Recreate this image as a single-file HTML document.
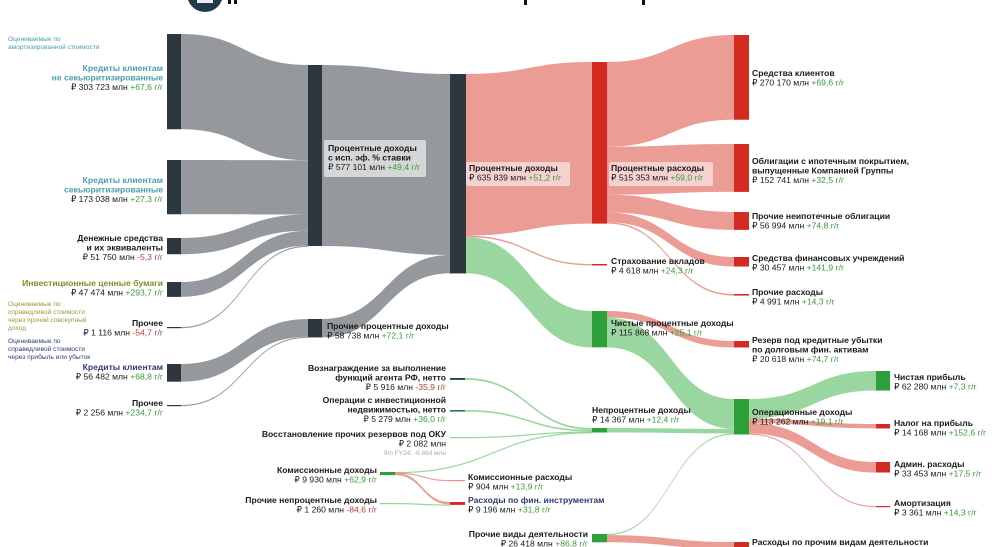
<!DOCTYPE html>
<html><head><meta charset="utf-8">
<style>
html,body{margin:0;padding:0;background:#fff;}
svg{display:block;font-family:"Liberation Sans","DejaVu Sans",sans-serif;}
.n{font-weight:bold;font-size:8.6px;fill:#1a1a1a;}
.v{font-size:8.6px;fill:#1a1a1a;}
.up{fill:#3a9a3a;}
.dn{fill:#b0403a;}
.note{font-size:6.6px;}
</style></head>
<body>
<svg id="chart" width="1000" height="547" viewBox="0 0 1000 547" xmlns="http://www.w3.org/2000/svg">
<g>
<circle cx="205" cy="-6" r="18" fill="#1f3a48"/>
<rect x="197" y="0" width="16" height="3" fill="#e8eef0"/>
<rect x="228" y="0" width="3" height="4" fill="#111"/>
<rect x="234" y="0" width="3" height="4" fill="#111"/>
<rect x="524" y="0" width="3" height="5" fill="#111"/>
<rect x="642" y="0" width="3" height="5" fill="#111"/>
</g>
<g id="links"></g>
<g id="nodes"></g>
<g id="labels">
<text x="8" y="41" class="note" fill="#4a9fb0"><tspan x="8">Оцениваемые по</tspan><tspan x="8" dy="8">амортизированной стоимости</tspan></text>
<text x="8" y="306" class="note" fill="#9a9a3a"><tspan x="8">Оцениваемые по</tspan><tspan x="8" dy="8">справедливой стоимости</tspan><tspan x="8" dy="8">через прочий совокупный</tspan><tspan x="8" dy="8">доход</tspan></text>
<text x="8" y="343" class="note" fill="#2f3a7a"><tspan x="8">Оцениваемые по</tspan><tspan x="8" dy="8">справедливой стоимости</tspan><tspan x="8" dy="8">через прибыль или убыток</tspan></text>
</g>
</svg>
<script>
// ---- data ----
const nodeNames = ["Кредиты клиентам не секьюритизированные","Кредиты клиентам секьюритизированные","Денежные средства и их эквиваленты","Инвестиционные ценные бумаги","Прочее (ПСД)","Кредиты клиентам (ССПУ)","Прочее (ССПУ)",
"Процентные доходы с исп. эф. % ставки","Прочие процентные доходы","Процентные доходы","Процентные расходы","Страхование вкладов","Чистые процентные доходы","Непроцентные доходы",
"Средства клиентов","Облигации с ипотечным покрытием","Прочие неипотечные облигации","Средства финансовых учреждений","Прочие расходы","Резерв под кредитные убытки","Операционные доходы",
"Чистая прибыль","Налог на прибыль","Админ. расходы","Амортизация",
"Вознаграждение агента РФ","Операции с инвест. недвижимостью","Восстановление резервов","Комиссионные доходы","Прочие непроцентные доходы","Комиссионные расходы","Расходы по фин. инструментам","Прочие виды деятельности","Расходы по прочим видам деятельности"];
const linkSource = [0,1,2,3,4,5,6, 7,8, 9,9,9, 10,10,10,10,10, 12,12, 25,26,27,28, 28,28,29, 13,32,32, 20,20,20,20];
const linkTarget = [7,7,7,7,7,8,8, 9,9, 10,11,12, 14,15,16,17,18, 19,20, 13,13,13,13, 30,31,31, 20,20,33, 21,22,23,24];
const linkValue  = [303723,173038,51750,47474,1116,56482,2256, 577101,58738, 515353,4618,115868, 270170,152741,56994,30457,4991, 20618,95250, 5916,5279,2082,1090, 904,7936,1260, 14367,3645,22773, 62280,14168,33453,3361];
const linkKind   = ["g","g","g","g","g","g","g", "g","g", "r","r","G", "r","r","r","r","r", "r","G", "G","G","G","G", "r","r","G", "G","G","r", "G","r","r","r"];
// ---- layout (positions only) ----
const nodeX = [167,167,167,167,167,167,167, 308,308, 450,592,592,592,592, 734,734,734,734,734,734,734, 876,876,876,876, 450,450,450,380,380,450,450,592,734];
const nodeY = [34,160,238,282,327,364,405, 65,319, 74,62,264,311,428, 35,144,212,257,294,341,399, 371,424,462,506, 378,410,437,472,503,480,502,534,542];
const nodeW = [14,14,14,14,14,14,14, 14,14, 16,15,15,15,15, 15,15,15,15,15,15,15, 14,14,14,14, 15,15,15,15,15,15,15,15,15];
const nodeFill = ["#2d3740","#2d3740","#2d3740","#2d3740","#2d3740","#2d3740","#2d3740","#2d3740","#2d3740","#2d3740","#d42a22","#d42a22","#2ea03a","#2ea03a","#d42a22","#d42a22","#d42a22","#d42a22","#d42a22","#d42a22","#2ea03a","#2ea03a","#d42a22","#d42a22","#d42a22","#1e4a2a","#3a7a4a","#8fd396","#2ea03a","#8fd396","#e8918a","#d42a22","#2ea03a","#d42a22"];
const K = 181/577101;
function h(v){return Math.max(1.2, v*K);}
const NS="http://www.w3.org/2000/svg";
const nodeVal = nodeNames.map((_,i)=>{let a=0,b=0;linkValue.forEach((v,j)=>{if(linkSource[j]===i)a+=v;if(linkTarget[j]===i)b+=v;});return Math.max(a,b);});
const outOff = nodeNames.map(()=>0), inOff = nodeNames.map(()=>0);
const colors = {g:"#8f9399",r:"#e8918a",G:"#8fd396"};
const lg = document.getElementById('links');
linkValue.forEach((v,j)=>{
  const s=linkSource[j], t=linkTarget[j], w=h(v);
  const x0=nodeX[s]+nodeW[s], x1=nodeX[t];
  const y0=nodeY[s]+outOff[s], y1=nodeY[t]+inOff[t];
  outOff[s]+=v*K; inOff[t]+=v*K;
  const mx=(x0+x1)/2;
  const p=document.createElementNS(NS,'path');
  p.setAttribute('d',`M${x0},${y0} C${mx},${y0} ${mx},${y1} ${x1},${y1} L${x1},${y1+w} C${mx},${y1+w} ${mx},${y0+w} ${x0},${y0+w} Z`);
  p.setAttribute('fill',colors[linkKind[j]]);
  p.setAttribute('opacity',linkKind[j]==='g'?0.95:0.9);
  
  
  lg.appendChild(p);
});
const ng = document.getElementById('nodes');
nodeVal.forEach((v,i)=>{
  const r=document.createElementNS(NS,'rect');
  r.setAttribute('x',nodeX[i]);r.setAttribute('y',nodeY[i]);
  r.setAttribute('width',nodeW[i]);r.setAttribute('height',h(v));
  r.setAttribute('fill',nodeFill[i]);
  
  
  ng.appendChild(r);
});
// ---- labels ----
const labelTexts = [
 ["end",163,71,["Кредиты клиентам","не секьюритизированные"],"₽ 303 723 млн"," +67,6 г/г","up","#4a9fb0"],
 ["end",163,183,["Кредиты клиентам","секьюритизированные"],"₽ 173 038 млн"," +27,3 г/г","up","#4a9fb0"],
 ["end",163,241,["Денежные средства","и их эквиваленты"],"₽ 51 750 млн"," -5,3 г/г","dn",null],
 ["end",163,286,["Инвестиционные ценные бумаги"],"₽ 47 474 млн"," +293,7 г/г","up","#8a8a2a"],
 ["end",163,326,["Прочее"],"₽ 1 116 млн"," -54,7 г/г","dn",null],
 ["end",163,370,["Кредиты клиентам"],"₽ 56 482 млн"," +68,8 г/г","up","#2f3a7a"],
 ["end",163,406,["Прочее"],"₽ 2 256 млн"," +234,7 г/г","up",null],
 ["start",328,151,["Процентные доходы","с исп. эф. % ставки"],"₽ 577 101 млн"," +49,4 г/г","up",null],
 ["start",327,329,["Прочие процентные доходы"],"₽ 58 738 млн"," +72,1 г/г","up",null],
 ["start",469,171,["Процентные доходы"],"₽ 635 839 млн"," +51,2 г/г","up",null],
 ["start",611,171,["Процентные расходы"],"₽ 515 353 млн"," +59,0 г/г","up",null],
 ["start",611,264,["Страхование вкладов"],"₽ 4 618 млн"," +24,3 г/г","up",null],
 ["start",611,326,["Чистые процентные доходы"],"₽ 115 868 млн"," +25,1 г/г","up",null],
 ["start",592,413,["Непроцентные доходы"],"₽ 14 367 млн"," +12,4 г/г","up",null],
 ["start",752,76,["Средства клиентов"],"₽ 270 170 млн"," +69,6 г/г","up",null],
 ["start",752,164,["Облигации с ипотечным покрытием,","выпущенные Компанией Группы"],"₽ 152 741 млн"," +32,5 г/г","up",null],
 ["start",752,219,["Прочие неипотечные облигации"],"₽ 56 994 млн"," +74,8 г/г","up",null],
 ["start",752,261,["Средства финансовых учреждений"],"₽ 30 457 млн"," +141,9 г/г","up",null],
 ["start",752,295,["Прочие расходы"],"₽ 4 991 млн"," +14,3 г/г","up",null],
 ["start",752,343,["Резерв под кредитные убытки","по долговым фин. активам"],"₽ 20 618 млн"," +74,7 г/г","up",null],
 ["start",752,415,["Операционные доходы"],"₽ 113 262 млн"," +19,1 г/г","up",null],
 ["start",894,380,["Чистая прибыль"],"₽ 62 280 млн"," +7,3 г/г","up",null],
 ["start",894,426,["Налог на прибыль"],"₽ 14 168 млн"," +152,6 г/г","up",null],
 ["start",894,467,["Админ. расходы"],"₽ 33 453 млн"," +17,5 г/г","up",null],
 ["start",894,506,["Амортизация"],"₽ 3 361 млн"," +14,3 г/г","up",null],
 ["start",752,545,["Расходы по прочим видам деятельности"],"","","up",null],
 ["end",446,371,["Вознаграждение за выполнение","функций агента РФ, нетто"],"₽ 5 916 млн"," -35,9 г/г","dn",null],
 ["end",446,403,["Операции с инвестиционной","недвижимостью, нетто"],"₽ 5 279 млн"," +36,0 г/г","up",null],
 ["end",446,437,["Восстановление прочих резервов под ОКУ"],"₽ 2 082 млн","","up",null],
 ["end",377,473,["Комиссионные доходы"],"₽ 9 930 млн"," +62,9 г/г","up",null],
 ["end",377,503,["Прочие непроцентные доходы"],"₽ 1 260 млн"," -84,6 г/г","dn",null],
 ["start",468,480,["Комиссионные расходы"],"₽ 904 млн"," +13,9 г/г","up",null],
 ["start",468,503,["Расходы по фин. инструментам"],"₽ 9 196 млн"," +31,8 г/г","up","#2f3a7a"],
 ["end",588,537,["Прочие виды деятельности"],"₽ 26 418 млн"," +86,8 г/г","up",null]
];
const lab = document.getElementById('labels');
const boxes=[[324,140,102,37,"#e0e0e0"],[466,162,104,24,"#f6dcd9"],[609,162,104,24,"#f6dcd9"]];
boxes.forEach(b=>{const r=document.createElementNS(NS,'rect');r.setAttribute('x',b[0]);r.setAttribute('y',b[1]);r.setAttribute('width',b[2]);r.setAttribute('height',b[3]);r.setAttribute('fill',b[4]);r.setAttribute('opacity','0.85');r.setAttribute('rx','2');


lab.insertBefore(r,lab.firstChild);});
labelTexts.forEach(L=>{
  const [anchor,x,y,names,val,chg,cls,col]=L;
  const t=document.createElementNS(NS,'text');
  t.setAttribute('text-anchor',anchor);
  
  
  let yy=y;
  names.forEach(nm=>{const s=document.createElementNS(NS,'tspan');s.setAttribute('x',x);s.setAttribute('y',yy);s.setAttribute('class','n');if(col)s.setAttribute('style','fill:'+col);s.textContent=nm;t.appendChild(s);yy+=9.5;});
  if(val){const s=document.createElementNS(NS,'tspan');s.setAttribute('x',x);s.setAttribute('y',yy);s.setAttribute('class','v');s.textContent=val;t.appendChild(s);
   if(chg){const c=document.createElementNS(NS,'tspan');c.setAttribute('class','v '+cls);c.textContent=chg;t.appendChild(c);}}
  lab.appendChild(t);
});
const extra=document.createElementNS(NS,'text');
extra.setAttribute('x',446);extra.setAttribute('y',455);extra.setAttribute('text-anchor','end');extra.setAttribute('font-size','6.5');extra.setAttribute('fill','#aaa');
extra.textContent='9m FY24: -6 864 млн';


lab.appendChild(extra);
</script>
</body></html>
